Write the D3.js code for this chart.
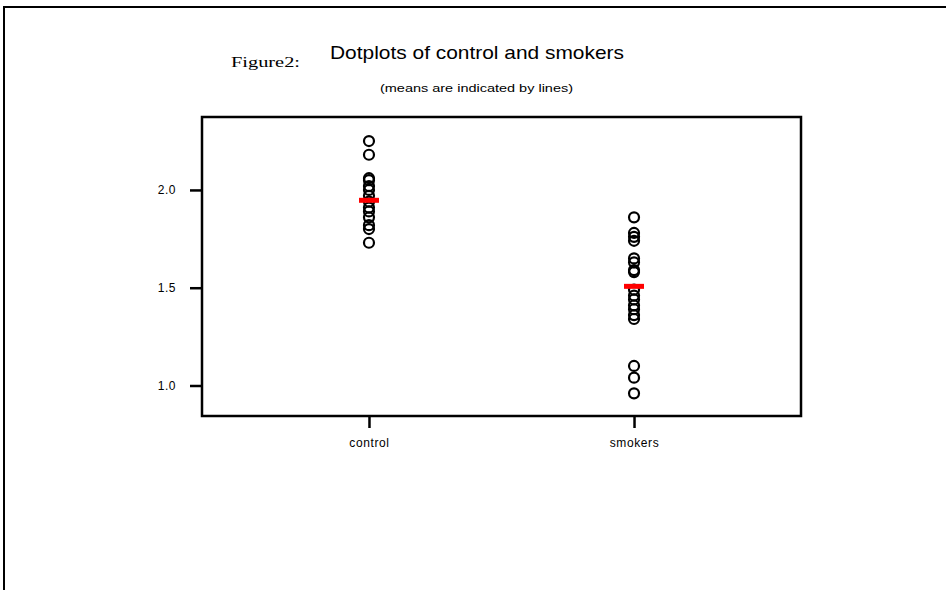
<!DOCTYPE html>
<html>
<head>
<meta charset="utf-8">
<script src="https://cdn.jsdelivr.net/npm/d3@7"></script>
<style>
  html, body { margin: 0; padding: 0; background: #fff; }
  svg { display: block; }
</style>
</head>
<body>
<div id="chart"></div>
<script>
// groups shown on the x axis
const GROUPS = ['control', 'smokers'];
const CONTROL = [2.25, 2.18, 2.06, 2.05, 2.02, 2.00, 1.97, 1.94, 1.91, 1.89, 1.86, 1.82, 1.80, 1.73];
const SMOKERS = [1.86, 1.78, 1.76, 1.74, 1.65, 1.63, 1.59, 1.58, 1.49, 1.46, 1.44, 1.41, 1.39, 1.36, 1.34, 1.10, 1.04, 0.96];
// red mean marks
const MEANS = [1.947, 1.507];
const Y_TICKS = [1.0, 1.5, 2.0];

const WIDTH = 946;
const HEIGHT = 590;
const BOX = { left: 202, right: 801, top: 117, bottom: 416 };
const SANS = '"Liberation Sans", Arial, sans-serif';

const svg = d3.select('#chart')
  .append('svg')
  .attr('width', WIDTH)
  .attr('height', HEIGHT);

// page frame (top and left edges only)
svg.append('path')
  .attr('d', `M4,${HEIGHT} V7 H${WIDTH}`)
  .attr('fill', 'none')
  .attr('stroke', '#000')
  .attr('stroke-width', 2);

svg.append('text')
  .attr('x', 231)
  .attr('y', 67)
  .attr('font-family', '"Liberation Serif", "Times New Roman", serif')
  .attr('font-size', '15px')
  .attr('textLength', 69)
  .attr('lengthAdjust', 'spacingAndGlyphs')
  .text('Figure2:');

svg.append('text')
  .attr('x', 330)
  .attr('y', 59)
  .attr('font-family', SANS)
  .attr('font-size', '19px')
  .attr('textLength', 294)
  .attr('lengthAdjust', 'spacingAndGlyphs')
  .text('Dotplots of control and smokers');

svg.append('text')
  .attr('x', 380)
  .attr('y', 92)
  .attr('font-family', SANS)
  .attr('font-size', '11px')
  .attr('textLength', 193)
  .attr('lengthAdjust', 'spacingAndGlyphs')
  .text('(means are indicated by lines)');

const x = d3.scalePoint()
  .domain(GROUPS)
  .range([BOX.left, BOX.right])
  .padding(0.63);

const y = d3.scaleLinear()
  .domain([0.844, 2.373])
  .range([BOX.bottom, BOX.top]);

// y axis
const yAxis = svg.append('g')
  .attr('transform', `translate(${BOX.left},0)`)
  .call(d3.axisLeft(y).tickValues(Y_TICKS).tickFormat(d3.format('.1f')).tickSize(12).tickPadding(14));
yAxis.select('.domain').remove();
yAxis.selectAll('line').attr('stroke', '#000').attr('stroke-width', 2.5);
yAxis.selectAll('text')
  .attr('fill', '#000')
  .attr('font-family', SANS)
  .attr('font-size', '12px')
  .attr('letter-spacing', '0.5px');

// x axis
const xAxis = svg.append('g')
  .attr('transform', `translate(0,${BOX.bottom})`)
  .call(d3.axisBottom(x).tickSize(12).tickPadding(10));
xAxis.select('.domain').remove();
xAxis.selectAll('line').attr('stroke', '#000').attr('stroke-width', 2.5);
xAxis.selectAll('text')
  .attr('fill', '#000')
  .attr('font-family', SANS)
  .attr('font-size', '12px')
  .attr('letter-spacing', '0.6px');

// plot box
svg.append('rect')
  .attr('x', BOX.left)
  .attr('y', BOX.top)
  .attr('width', BOX.right - BOX.left)
  .attr('height', BOX.bottom - BOX.top)
  .attr('fill', 'none')
  .attr('stroke', '#000')
  .attr('stroke-width', 2.5);

const series = [CONTROL, SMOKERS];
series.forEach((vals, i) => {
  svg.append('g')
    .selectAll('circle')
    .data(vals)
    .join('circle')
    .attr('cx', x(GROUPS[i]))
    .attr('cy', (d) => y(d))
    .attr('r', 5)
    .attr('fill', 'none')
    .attr('stroke', '#000')
    .attr('stroke-width', 2.2);
});

svg.append('g')
  .selectAll('line')
  .data(MEANS)
  .join('line')
  .attr('x1', (d, i) => x(GROUPS[i]) - 10)
  .attr('x2', (d, i) => x(GROUPS[i]) + 10)
  .attr('y1', (d) => y(d))
  .attr('y2', (d) => y(d))
  .attr('stroke', '#ff0000')
  .attr('stroke-width', 5);
</script>
</body>
</html>
